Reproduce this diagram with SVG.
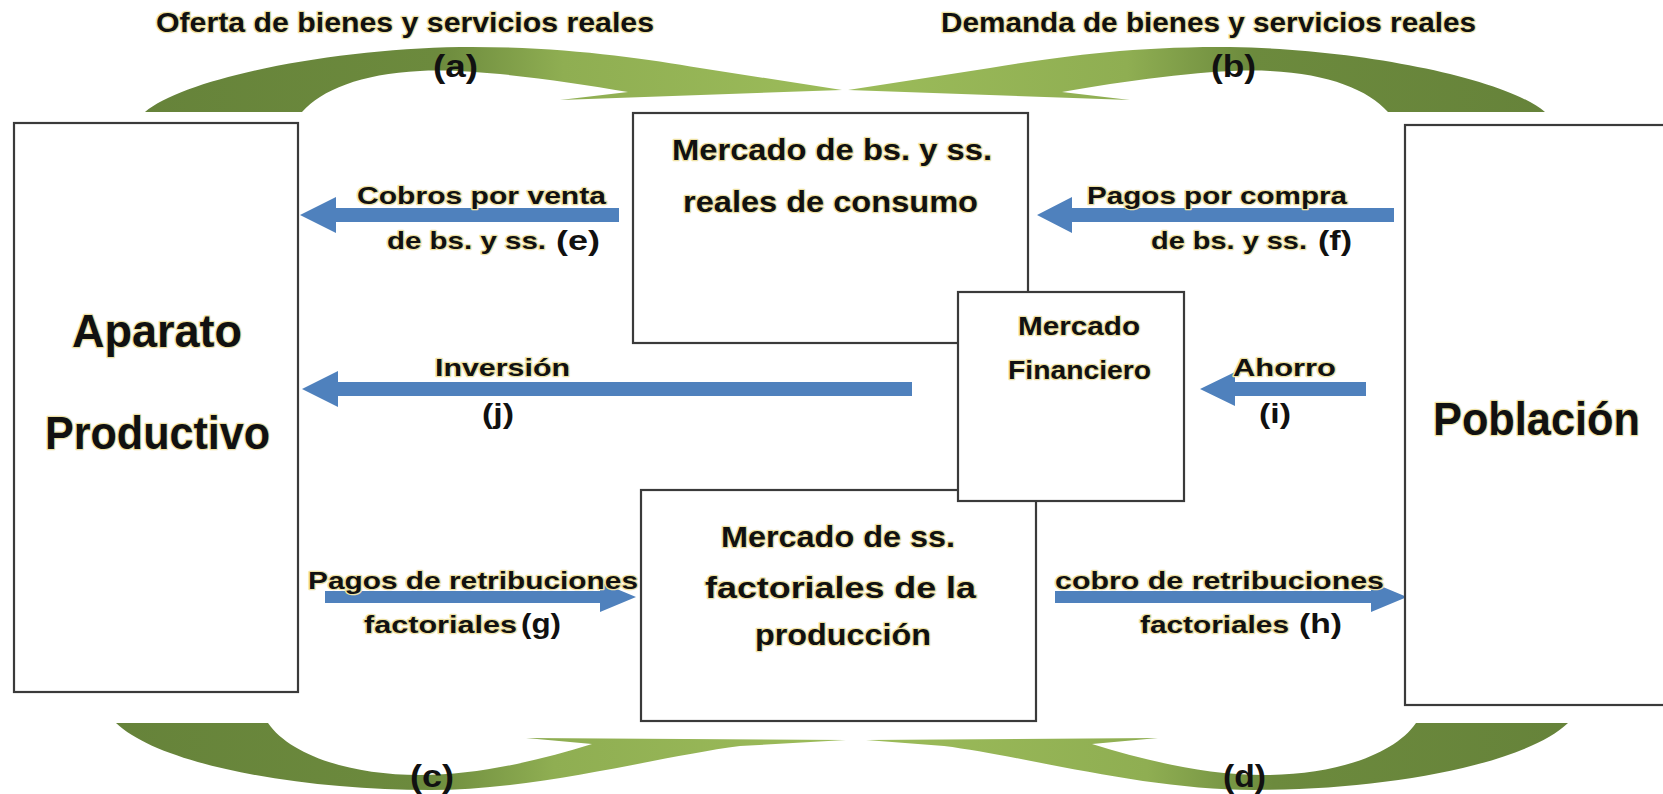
<svg xmlns="http://www.w3.org/2000/svg" width="1663" height="794" viewBox="0 0 1663 794">
<style>
.box{fill:#fff;stroke:#3a3a3a;stroke-width:2.2}
.t{font-family:"Liberation Sans",Arial,sans-serif;font-weight:bold;fill:#111;stroke:#efe3a6;stroke-width:2.5;paint-order:stroke;stroke-linejoin:round}
.l{font-family:"Liberation Sans",Arial,sans-serif;font-weight:bold;fill:#111}
.blue{fill:#4f81bd}
.green{fill:url(#gA)}
</style>
<defs>
<linearGradient id="gA" x1="0" y1="0" x2="1" y2="0">
<stop offset="0" stop-color="#66833a"/>
<stop offset="0.42" stop-color="#6c8a3d"/>
<stop offset="0.6" stop-color="#8fae52"/>
<stop offset="1" stop-color="#9cbc5a"/>
</linearGradient>
<path id="topArrow" d="M145,112 C185,78 330,49 460,47 C560,46 640,58 700,68 L842,90 L560,100 L628,92 C560,80 470,68 420,71 C360,74 322,90 302,112 Z"/>
<path id="botArrowC" d="M116,723 C160,765 300,790 430,790 C540,790 660,756 740,746 L846,740 L526,738 L592,744 C540,760 480,775 420,775 C350,775 290,755 268,723 Z"/>
<path id="botArrowD" d="M116,723 C160,765 300,790 430,790 C540,790 660,756 740,746 L818,740 L526,738 L592,744 C540,760 480,775 420,775 C350,775 290,755 268,723 Z"/>
</defs>
<rect width="1663" height="794" fill="#fff"/>

<g id="connectors">
<use href="#topArrow" class="green"/>
<use href="#topArrow" class="green" transform="translate(1690,0) scale(-1,1)"/>
<use href="#botArrowC" class="green"/>
<use href="#botArrowD" class="green" transform="translate(1684,0) scale(-1,1)"/>
<path class="blue" d="M300,215 L336,197 L336,208 L619,208 L619,222 L336,222 L336,233 Z"/>
<path class="blue" d="M1037,215 L1072,197 L1072,208 L1394,208 L1394,222 L1072,222 L1072,233 Z"/>
<path class="blue" d="M302,389 L338,371 L338,382 L912,382 L912,396 L338,396 L338,407 Z"/>
<path class="blue" d="M1200,389 L1235,372 L1235,382 L1366,382 L1366,396 L1235,396 L1235,406 Z"/>
<path class="blue" d="M636,597 L600,582 L600,591 L325,591 L325,603 L600,603 L600,612 Z"/>
<path class="blue" d="M1407,597 L1371,582 L1371,591 L1055,591 L1055,603 L1371,603 L1371,612 Z"/>
</g>

<g id="aparato">
<rect class="box" x="14" y="123" width="284" height="569"/>
<text class="t" x="72" y="347" font-size="46" textLength="170" lengthAdjust="spacingAndGlyphs">Aparato</text>
<text class="t" x="45" y="449" font-size="46" textLength="225" lengthAdjust="spacingAndGlyphs">Productivo</text>
</g>

<g id="poblacion">
<rect class="box" x="1405" y="125" width="300" height="580"/>
<text class="t" x="1433" y="435" font-size="46" textLength="207" lengthAdjust="spacingAndGlyphs">Población</text>
</g>

<g id="mercado-bienes">
<rect class="box" x="633" y="113" width="395" height="230"/>
<text class="t" x="672" y="160" font-size="29" textLength="320" lengthAdjust="spacingAndGlyphs">Mercado de bs. y ss.</text>
<text class="t" x="683" y="212" font-size="29" textLength="295" lengthAdjust="spacingAndGlyphs">reales de consumo</text>
</g>

<g id="mercado-factorial">
<rect class="box" x="641" y="490" width="395" height="231"/>
<text class="t" x="721" y="547" font-size="29" textLength="234" lengthAdjust="spacingAndGlyphs">Mercado de ss.</text>
<text class="t" x="705" y="598" font-size="29" textLength="271" lengthAdjust="spacingAndGlyphs">factoriales de la</text>
<text class="t" x="755" y="645" font-size="29" textLength="176" lengthAdjust="spacingAndGlyphs">producción</text>
</g>

<g id="mercado-financiero">
<rect class="box" x="958" y="292" width="226" height="209"/>
<text class="t" x="1018" y="335" font-size="26" textLength="122" lengthAdjust="spacingAndGlyphs">Mercado</text>
<text class="t" x="1008" y="379" font-size="26" textLength="143" lengthAdjust="spacingAndGlyphs">Financiero</text>
</g>

<g id="labels">
<text class="t" x="156" y="32" font-size="27" textLength="498" lengthAdjust="spacingAndGlyphs">Oferta de bienes y servicios reales</text>
<text class="t" x="941" y="32" font-size="27" textLength="535" lengthAdjust="spacingAndGlyphs">Demanda de bienes y servicios reales</text>
<text class="l" x="433" y="77" font-size="32" textLength="45" lengthAdjust="spacingAndGlyphs">(a)</text>
<text class="l" x="1211" y="77" font-size="32" textLength="45" lengthAdjust="spacingAndGlyphs">(b)</text>
<text class="l" x="410" y="787" font-size="32" textLength="44" lengthAdjust="spacingAndGlyphs">(c)</text>
<text class="l" x="1223" y="787" font-size="32" textLength="43" lengthAdjust="spacingAndGlyphs">(d)</text>

<text class="t" x="357" y="204" font-size="24" textLength="249" lengthAdjust="spacingAndGlyphs">Cobros por venta</text>
<text class="t" x="387" y="249" font-size="24" textLength="159" lengthAdjust="spacingAndGlyphs">de bs. y ss.</text>
<text class="l" x="556" y="250" font-size="28" textLength="44" lengthAdjust="spacingAndGlyphs">(e)</text>

<text class="t" x="1087" y="204" font-size="24" textLength="260" lengthAdjust="spacingAndGlyphs">Pagos por compra</text>
<text class="t" x="1151" y="249" font-size="24" textLength="156" lengthAdjust="spacingAndGlyphs">de bs. y ss.</text>
<text class="l" x="1318" y="250" font-size="28" textLength="34" lengthAdjust="spacingAndGlyphs">(f)</text>

<text class="t" x="435" y="376" font-size="24" textLength="135" lengthAdjust="spacingAndGlyphs">Inversión</text>
<text class="l" x="482" y="423" font-size="28" textLength="32" lengthAdjust="spacingAndGlyphs">(j)</text>

<text class="t" x="1233" y="376" font-size="24" textLength="103" lengthAdjust="spacingAndGlyphs">Ahorro</text>
<text class="l" x="1259" y="423" font-size="28" textLength="32" lengthAdjust="spacingAndGlyphs">(i)</text>

<text class="t" x="308" y="589" font-size="24" textLength="330" lengthAdjust="spacingAndGlyphs">Pagos de retribuciones</text>
<text class="t" x="364" y="633" font-size="24" textLength="153" lengthAdjust="spacingAndGlyphs">factoriales</text>
<text class="l" x="521" y="633" font-size="28" textLength="40" lengthAdjust="spacingAndGlyphs">(g)</text>

<text class="t" x="1055" y="589" font-size="24" textLength="329" lengthAdjust="spacingAndGlyphs">cobro de retribuciones</text>
<text class="t" x="1140" y="633" font-size="24" textLength="149" lengthAdjust="spacingAndGlyphs">factoriales</text>
<text class="l" x="1299" y="633" font-size="28" textLength="43" lengthAdjust="spacingAndGlyphs">(h)</text>
</g>
</svg>
